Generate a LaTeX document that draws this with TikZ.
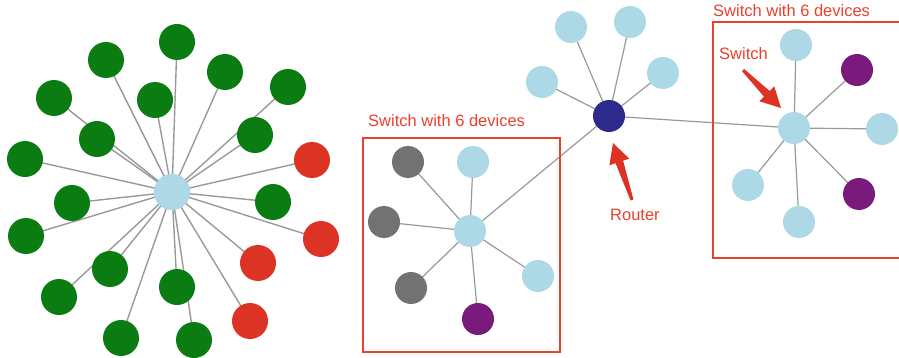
\documentclass[tikz,border=0pt]{standalone}
\usepackage{fontspec}
\setmainfont{Liberation Sans}
\usetikzlibrary{calc}
\definecolor{leafgreen}{HTML}{0A7C12}
\definecolor{alertred}{HTML}{DC3324}
\definecolor{hostblue}{HTML}{ADD8E6}
\definecolor{hostpurple}{HTML}{7A1A7D}
\definecolor{hostgray}{HTML}{727272}
\definecolor{routerblue}{HTML}{2C2A8C}
\definecolor{linkgray}{HTML}{999999}
\definecolor{notered}{HTML}{E8412C}
\tikzset{
  dev/.style={circle, inner sep=0pt, minimum size=#1},
  dev/.default=36pt,
  link/.style={draw=linkgray, line width=1.4pt},
  frame/.style={draw=notered, line width=1.4pt},
  note/.style={text=notered, font=\fontsize{16.5}{18}\selectfont, inner sep=0pt, anchor=base west},
}
% fat red pointer from #1 (tail) to #2 (tip)
\newcommand{\fatpointer}[2]{%
  \fill[alertred]
    ($(#1)!1.5pt!90:(#2)$) --
    ($($(#2)!20pt!(#1)$)!4pt!-90:(#1)$) --
    ($($(#2)!20pt!(#1)$)!10.5pt!-90:(#1)$) --
    (#2) --
    ($($(#2)!20pt!(#1)$)!10.5pt!90:(#1)$) --
    ($($(#2)!20pt!(#1)$)!4pt!90:(#1)$) --
    ($(#1)!1.5pt!-90:(#2)$) -- cycle;}
\begin{document}
\begin{tikzpicture}[x=1pt, y=-1pt]
\useasboundingbox (0,0) rectangle (899,358);

% ---------- flat star network ----------
\node[dev, fill=hostblue] (hub) at (172,192) {};
\foreach \n/\x/\y/\c in {
  g1/177/42/leafgreen, g2/106/60/leafgreen, g3/225/72/leafgreen,
  g4/288/87/leafgreen, g5/54/98/leafgreen, g6/155/100/leafgreen,
  g7/97/139/leafgreen, g8/255/135/leafgreen, g9/25/159/leafgreen,
  r1/312/160/alertred, g10/72/203/leafgreen, g11/273/202/leafgreen,
  g12/26/236/leafgreen, r2/321/239/alertred, g13/110/269/leafgreen,
  r3/258/263/alertred, g14/59/297/leafgreen, g15/177/287/leafgreen,
  r4/250/321/alertred, g16/121/338/leafgreen, g17/194/340/leafgreen}
{
  \coordinate (\n) at (\x,\y);
  \draw[link] (hub.center) -- (\n);
}
\foreach \n/\c in {
  g1/leafgreen, g2/leafgreen, g3/leafgreen, g4/leafgreen, g5/leafgreen,
  g6/leafgreen, g7/leafgreen, g8/leafgreen, g9/leafgreen, r1/alertred,
  g10/leafgreen, g11/leafgreen, g12/leafgreen, r2/alertred, g13/leafgreen,
  r3/alertred, g14/leafgreen, g15/leafgreen, r4/alertred, g16/leafgreen,
  g17/leafgreen}
  \node[dev, fill=\c] at (\n) {};
\node[dev, fill=hostblue] at (hub) {};

% ---------- segmented network ----------
\coordinate (router) at (609,116);
\coordinate (swA) at (470,231);
\coordinate (swB) at (794,128);

\draw[link, line width=1.2pt] (router) -- (swA);
\draw[link, line width=1.2pt] (router) -- (swB);

% router hosts
\foreach \n/\x/\y in {ra/571/27, rb/630/22, rc/542/82, rd/663/73} {
  \coordinate (\n) at (\x,\y);
  \draw[link, line width=1.2pt] (router) -- (\n);
  \node[dev=32pt, fill=hostblue] at (\n) {};
}
% left switch hosts
\foreach \n/\x/\y/\c in {
  a1/408/162/hostgray, a2/473/162/hostblue, a3/384/222/hostgray,
  a4/411/288/hostgray, a5/538/276/hostblue, a6/478/319/hostpurple} {
  \coordinate (\n) at (\x,\y);
  \draw[link, line width=1.2pt] (swA) -- (\n);
  \node[dev=32pt, fill=\c] at (\n) {};
}
% right switch hosts
\foreach \n/\x/\y/\c in {
  b1/796/45/hostblue, b2/857/70/hostpurple, b3/882/129/hostblue,
  b4/859/194/hostpurple, b5/799/222/hostblue, b6/748/185/hostblue} {
  \coordinate (\n) at (\x,\y);
  \draw[link, line width=1.2pt] (swB) -- (\n);
  \node[dev=32pt, fill=\c] at (\n) {};
}
\node[dev=32pt, fill=routerblue] (routerdev) at (router) {};
\node[dev=32pt, fill=hostblue] (swAdev) at (swA) {};
\node[dev=32pt, fill=hostblue] (swBdev) at (swB) {};

% ---------- annotations ----------
\draw[frame] (363,138) rectangle (560,352);
\draw[frame] (901,22) -- (713,22) -- (713,258) -- (901,258);
\node[note] (labA) at (368,127) {Switch with 6 devices};
\node[note] (labB) at (713,17) {Switch with 6 devices};
\node[note] (labR) at (610,221) {Router};
\node[note] (labS) at (719,60) {Switch};

\coordinate (rtail) at (632,200);
\coordinate (rtip) at (613,143);
\fatpointer{rtail}{rtip}
\coordinate (stail) at (743,70);
\coordinate (stip) at (781,108);
\fatpointer{stail}{stip}
\end{tikzpicture}
\end{document}
